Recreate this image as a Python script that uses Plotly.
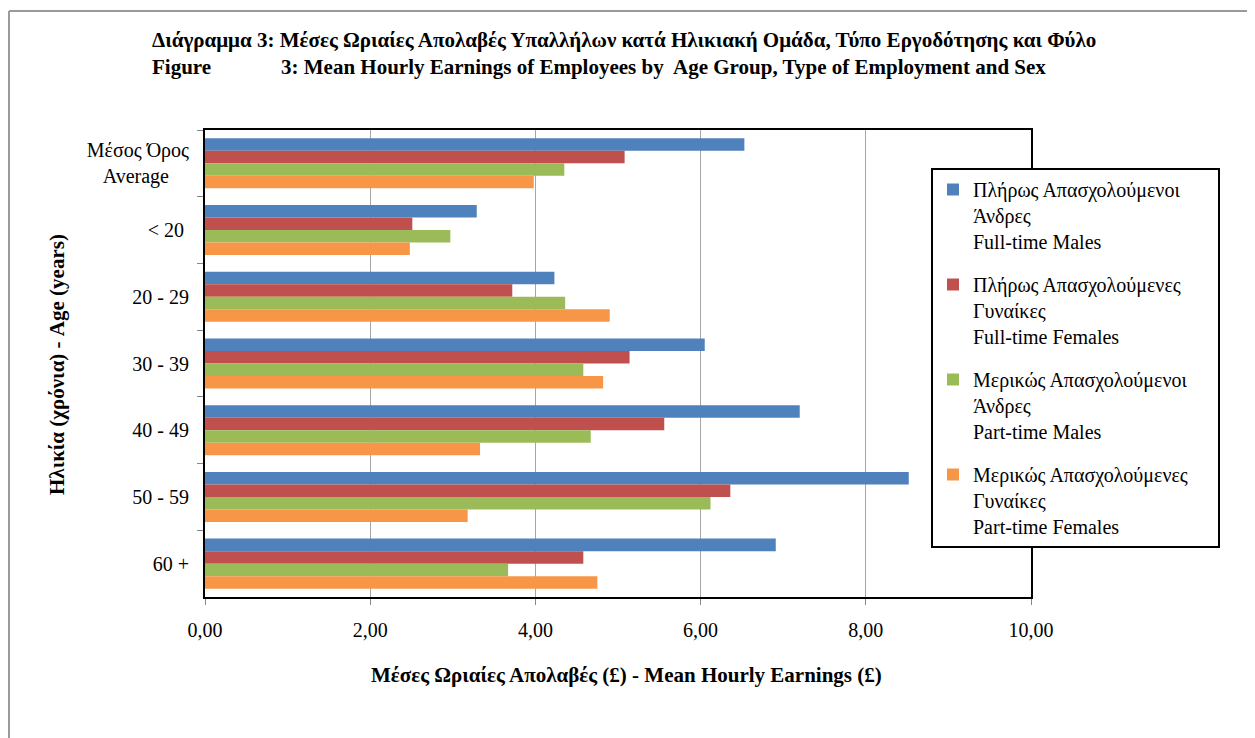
import plotly.graph_objects as go

categories = ["Μέσος Όρος<br>Average\u00a0\u00a0\u00a0\u00a0", "< 20\u00a0", "20 - 29", "30 - 39", "40 - 49", "50 - 59", "60 +"]
series_names = [
    "Πλήρως Απασχολούμενοι<br>Άνδρες<br>Full-time Males",
    "Πλήρως Απασχολούμενες<br>Γυναίκες<br>Full-time Females",
    "Μερικώς Απασχολούμενοι<br>Άνδρες<br>Part-time Males",
    "Μερικώς Απασχολούμενες\u00a0\u00a0\u00a0\u00a0\u00a0<br>Γυναίκες<br>Part-time Females",
]
full_time_males = [6.53, 3.29, 4.23, 6.05, 7.20, 8.52, 6.91]
full_time_females = [5.08, 2.51, 3.72, 5.14, 5.56, 6.36, 4.58]
part_time_males = [4.35, 2.97, 4.36, 4.58, 4.67, 6.12, 3.67]
part_time_females = [3.98, 2.48, 4.90, 4.82, 3.33, 3.18, 4.75]
colors = ["#4F81BD", "#C0504D", "#9BBB59", "#F79646"]
tick_vals = [0, 2, 4, 6, 8, 10]

title_el = "Διάγραμμα 3: Μέσες Ωριαίες Απολαβές Υπαλλήλων κατά Ηλικιακή Ομάδα, Τύπο Εργοδότησης και Φύλο"
title_en_a = "Figure"
title_en_b = "3: Mean Hourly Earnings of Employees by\u00a0 Age Group, Type of Employment and Sex"
x_title = "Μέσες Ωριαίες Απολαβές (£) - Mean Hourly Earnings (£)"
y_title = "Ηλικία (χρόνια) - Age (years)"

FONT = "Liberation Serif, Times New Roman, serif"
OFF = 8                      # default page body margin
W, H = 1255 - OFF, 738 - OFF
L, R, T, B = 205, 1031, 130, 597   # plot area in window pixels

def px_x(p):
    return (p - L) / (R - L)

def px_y(p):
    return (B - p) / (B - T)

fig = go.Figure()
for i, (name, vals) in enumerate(zip(series_names,
                                     [full_time_males, full_time_females, part_time_males, part_time_females])):
    fig.add_trace(go.Bar(
        y=categories, x=vals, name=name, orientation="h",
        marker=dict(color=colors[i], line=dict(width=0)),
        legendgroup=f"g{i}",
    ))

ann_font_b = dict(family=FONT, size=21, color="black")
fig.update_layout(
    width=W, height=H,
    margin=dict(l=L - OFF, r=W - (R - OFF), t=T - OFF, b=H - (B - OFF), pad=0),
    paper_bgcolor="white", plot_bgcolor="white",
    barmode="group", bargap=0.25, bargroupgap=0,
    font=dict(family=FONT, size=20, color="black"),
    showlegend=True,
    legend=dict(
        x=px_x(931), y=px_y(168), xanchor="left", yanchor="top",
        bordercolor="black", borderwidth=2, bgcolor="white",
        font=dict(family=FONT, size=20, color="black"),
        tracegroupgap=14, valign="top", traceorder="grouped",
        itemwidth=30,
    ),
    xaxis=dict(
        range=[0, 10], tickvals=tick_vals, tickformat=".2f",
        showgrid=True, gridcolor="#A6A6A6", gridwidth=1,
        showline=True, linecolor="black", linewidth=2, mirror=True,
        ticks="outside", ticklen=6, tickcolor="#888888",
        zeroline=False, ticklabelstandoff=8,
        tickfont=dict(family=FONT, size=20),
    ),
    yaxis=dict(
        autorange="reversed",
        showline=True, linecolor="black", linewidth=2, mirror=True,
        ticks="outside", ticklen=6, tickcolor="#888888", tickson="boundaries",
        showgrid=False, ticklabelstandoff=10,
        tickfont=dict(family=FONT, size=20),
    ),
    separators=",.",
    annotations=[
        dict(text=f"<b>{title_el}</b>", xref="paper", yref="paper",
             x=px_x(150), y=px_y(40), xanchor="left", yanchor="middle",
             showarrow=False, font=ann_font_b),
        dict(text=f"<b>{title_en_a}</b>", xref="paper", yref="paper",
             x=px_x(150), y=px_y(67), xanchor="left", yanchor="middle",
             showarrow=False, font=ann_font_b),
        dict(text=f"<b>{title_en_b}</b>", xref="paper", yref="paper",
             x=px_x(279), y=px_y(67), xanchor="left", yanchor="middle",
             showarrow=False, font=ann_font_b),
        dict(text=f"<b>{x_title}</b>", xref="paper", yref="paper",
             x=px_x(626), y=px_y(675), xanchor="center", yanchor="middle",
             showarrow=False, font=ann_font_b),
        dict(text=f"<b>{y_title}</b>", xref="paper", yref="paper",
             x=px_x(57), y=px_y(365), xanchor="center", yanchor="middle",
             textangle=-90, showarrow=False, font=ann_font_b),
    ],
    shapes=[
        dict(type="line", xref="paper", yref="paper",
             x0=px_x(9), x1=px_x(1270), y0=px_y(11), y1=px_y(11),
             line=dict(color="#9A9A9A", width=2)),
        dict(type="line", xref="paper", yref="paper",
             x0=px_x(9), x1=px_x(9), y0=px_y(11), y1=px_y(760),
             line=dict(color="#9A9A9A", width=2)),
    ],
)

fig.write_html("out.html")
